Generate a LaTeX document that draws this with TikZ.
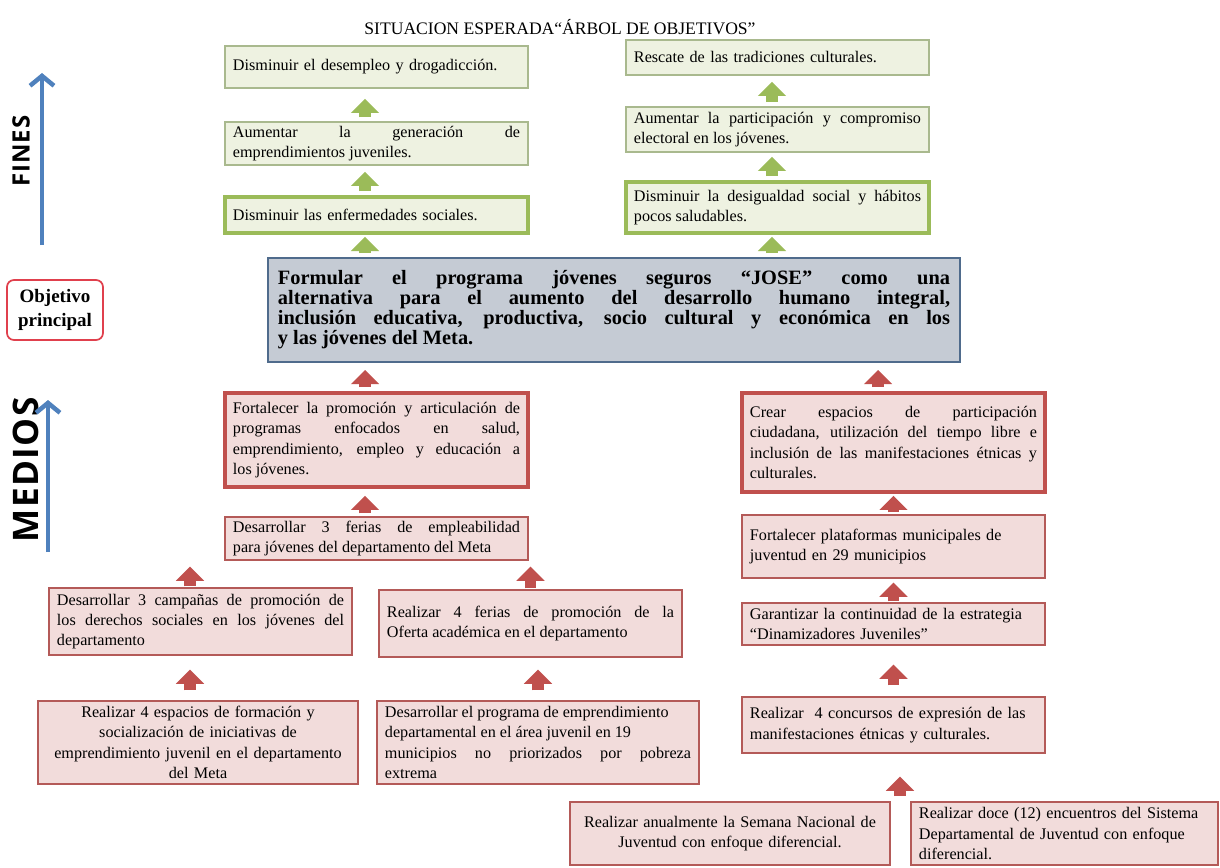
\documentclass[tikz,border=0pt]{standalone}
\usepackage{fontspec}
\setmainfont{Liberation Serif}
\newfontfamily\labelfont[LetterSpace=4]{Open Sans}
\usetikzlibrary{arrows.meta}

\definecolor{fincol}{HTML}{9BBB59}
\definecolor{finline}{HTML}{A9B98E}
\definecolor{finfill}{HTML}{EEF2E1}
\definecolor{medcol}{HTML}{C0504D}
\definecolor{medline}{HTML}{B45A58}
\definecolor{medfill}{HTML}{F2DCDB}
\definecolor{objfill}{HTML}{C5CBD4}
\definecolor{objline}{HTML}{4F6B8C}
\definecolor{arrblue}{HTML}{4F81BD}
\definecolor{objred}{HTML}{E0404D}

\tikzset{
  fin/.style={draw=finline, fill=finfill, line width=1.2pt, inner xsep=0.2cm, inner ysep=1pt,
    text width=7.175cm, font=\fontsize{11.5}{14.5}\selectfont, align=left},
  finthick/.style={fin, draw=fincol, line width=2.8pt},
  med/.style={draw=medline, fill=medfill, line width=1pt, inner xsep=0.2cm, inner ysep=1pt,
    text width=7.175cm, font=\fontsize{11.5}{14.5}\selectfont, align=left},
  medthick/.style={med, draw=medcol, line width=2.6pt},
  garrow/.style={draw=fincol, line width=8.5pt, -{Triangle[width=20pt,length=10pt,line width=0pt]}},
  rarrow/.style={garrow, draw=medcol},
  blarrow/.style={draw=arrblue, line width=3.2pt, -{Straight Barb[length=7pt,width=17pt]}},
  sidelabel/.style={rotate=90, font=\labelfont\bfseries\fontsize{#1}{#1}\selectfont},
}

\begin{document}
\begin{tikzpicture}[x=0.025cm, y=-0.025cm]
        \useasboundingbox (0,0) rectangle (1220,867);

        \node[font=\fontsize{12.5}{14}\selectfont] (title) at (560,27) {SITUACION ESPERADA“ÁRBOL DE OBJETIVOS”};

        % fines
        \node[fin, minimum height=1.05cm] (g1) at (376.5,67) {Disminuir el desempleo y drogadicción.};
        \node[fin, minimum height=1.075cm, align=justify] (g2) at (376.5,143.5) {Aumentar la generación de\linebreak emprendimientos juveniles.};
        \node[finthick, minimum height=0.9cm] (g3) at (376.5,215) {Disminuir las enfermedades sociales.};

        \node[fin, minimum height=0.875cm] (r1) at (777.5,57.5) {Rescate de las tradiciones culturales.};
        \node[fin, minimum height=1.125cm, align=justify] (r2) at (777.5,129.5) {Aumentar la participación y compromiso\linebreak electoral en los jóvenes.};
        \node[finthick, minimum height=1.275cm, align=justify] (r3) at (777.5,207.5) {Disminuir la desigualdad social y hábitos\linebreak pocos saludables.};

        % objetivo
        \node[draw=objline, fill=objfill, line width=1.4pt, text width=16.8cm, minimum height=2.6cm, inner xsep=0.25cm,
          align=justify, font=\fontsize{14.5}{14.2}\selectfont\bfseries] (ctr) at (614,310)
          {Formular el programa jóvenes seguros “JOSE” como una\linebreak alternativa para el aumento del desarrollo humano integral,\linebreak inclusión educativa, productiva, socio cultural y económica en los\linebreak y las jóvenes del Meta.};
        \node[draw=objred, fill=white, line width=1.2pt, rounded corners=5pt, minimum width=2.4cm, minimum height=1.5cm,
          inner xsep=1pt, align=center, font=\fontsize{13.5}{16.5}\selectfont\bfseries] (obj) at (55,310) {Objetivo\\principal};

        % medios
        \node[medthick, minimum height=2.35cm, align=justify] (f1) at (376.5,440) {Fortalecer la promoción y articulación de\linebreak programas enfocados en salud,\linebreak emprendimiento, empleo y educación a\linebreak los jóvenes.};
        \node[med, minimum height=1.075cm, align=justify] (f2) at (376.5,538.5) {Desarrollar 3 ferias de empleabilidad\linebreak para jóvenes del departamento del Meta};
        \node[med, minimum height=1.675cm, align=justify] (f3) at (200.5,621.5) {Desarrollar 3 campañas de promoción de\linebreak los derechos sociales en los jóvenes del\linebreak departamento};
        \node[med, minimum height=1.675cm, align=justify] (f4) at (530.5,623.5) {Realizar 4 ferias de promoción de la\linebreak Oferta académica en el departamento};
        \node[med, text width=7.6cm, minimum height=2.075cm, align=center] (f5) at (198,742.5) {Realizar 4 espacios de formación y\\ socialización de iniciativas de\\ emprendimiento juvenil en el departamento\\ del Meta};
        \node[med, text width=7.65cm, minimum height=2.075cm, align=justify] (f6) at (538,742.5) {Desarrollar el programa de emprendimiento\\ departamental en el área juvenil en 19\\ municipios no priorizados por pobreza\linebreak extrema};

        \node[medthick, minimum height=2.475cm, align=justify] (c1) at (893.5,442.5) {Crear espacios de participación\linebreak ciudadana, utilización del tiempo libre e\linebreak inclusión de las manifestaciones étnicas y\linebreak culturales.};
        \node[med, minimum height=1.575cm] (c2) at (893.5,546.5) {Fortalecer plataformas municipales de\\ juventud en 29 municipios};
        \node[med, minimum height=1.05cm] (c3) at (893.5,624) {Garantizar la continuidad de la estrategia\\ “Dinamizadores Juveniles”};
        \node[med, minimum height=1.4cm] (c4) at (893.5,725) {Realizar\ \ 4 concursos de expresión de las\\ manifestaciones étnicas y culturales.};
        \node[med, text width=7.6cm, minimum height=1.575cm, align=center] (b1) at (730,833.5) {Realizar anualmente la Semana Nacional de\\ Juventud con enfoque diferencial.};
        \node[med, text width=7.275cm, minimum height=1.575cm] (b2) at (1064.5,833.5) {Realizar doce (12) encuentros del Sistema\\ Departamental de Juventud con enfoque\\ diferencial.};

        % side labels
        \node[sidelabel=17] (fines) at (21,151) {FINES};
        \node[sidelabel=25] (medios) at (26,470) {MEDIOS};
        \coordinate (finesbot) at (42,245);
        \coordinate (finestop) at (42,73);
        \coordinate (mediosbot) at (48,552);
        \coordinate (mediostop) at (48,400);
        \draw[blarrow] (finesbot) -- (finestop);
        \draw[blarrow] (mediosbot) -- (mediostop);

        % columnas de flechas
        \coordinate (gx) at (365,0);
        \coordinate (rx) at (772,0);
        \coordinate (cx) at (878,0);
        \coordinate (lx) at (190,0);
        \coordinate (bgap) at (900,802);

        % flechas verdes
        \draw[garrow, shorten <=0.1cm, shorten >=0.25cm] (g2.north -| gx) -- (g1.south -| gx);
        \draw[garrow, shorten <=0.1cm, shorten >=0.15cm] (g3.north -| gx) -- (g2.south -| gx);
        \draw[garrow, shorten <=0.1cm, shorten >=0.05cm] (ctr.north -| gx) -- (g3.south -| gx);
        \draw[garrow, shorten <=0.1cm, shorten >=0.15cm] (r2.north -| rx) -- (r1.south -| rx);
        \draw[garrow, shorten <=0.1cm, shorten >=0.1cm] (r3.north -| rx) -- (r2.south -| rx);
        \draw[garrow, shorten <=0.1cm, shorten >=0.05cm] (ctr.north -| rx) -- (r3.south -| rx);

        % flechas rojas
        \draw[rarrow, shorten <=0.1cm, shorten >=0.175cm] (f1.north -| gx) -- (ctr.south -| gx);
        \draw[rarrow, shorten <=0.1cm, shorten >=0.175cm] (c1.north -| cx) -- (ctr.south -| cx);
        \draw[rarrow, shorten <=0.075cm, shorten >=0.175cm] (f2.north -| gx) -- (f1.south -| gx);
        \draw[rarrow, shorten <=0.025cm, shorten >=0.15cm] (f3.north -| lx) -- (f2.south -| lx);
        \draw[rarrow, shorten <=0.025cm, shorten >=0.15cm] (f4.north) -- (f4.north |- f2.south);
        \draw[rarrow, shorten <=0.25cm, shorten >=0.35cm] (f5.north -| lx) -- (f3.south -| lx);
        \draw[rarrow, shorten <=0.25cm, shorten >=0.3cm] (f6.north) -- (f6.north |- f4.south);
        \draw[rarrow, shorten <=0.05cm, shorten >=0.05cm] (c2.north) -- (c1.south);
        \draw[rarrow, shorten <=0.025cm, shorten >=0.1cm] (c3.north) -- (c2.south);
        \draw[rarrow, shorten <=0.275cm, shorten >=0.475cm] (c4.north) -- (c3.south);
        \draw[rarrow, shorten <=0.15cm, shorten >=0.575cm] (bgap) -- (bgap |- c4.south);
\end{tikzpicture}
\end{document}
